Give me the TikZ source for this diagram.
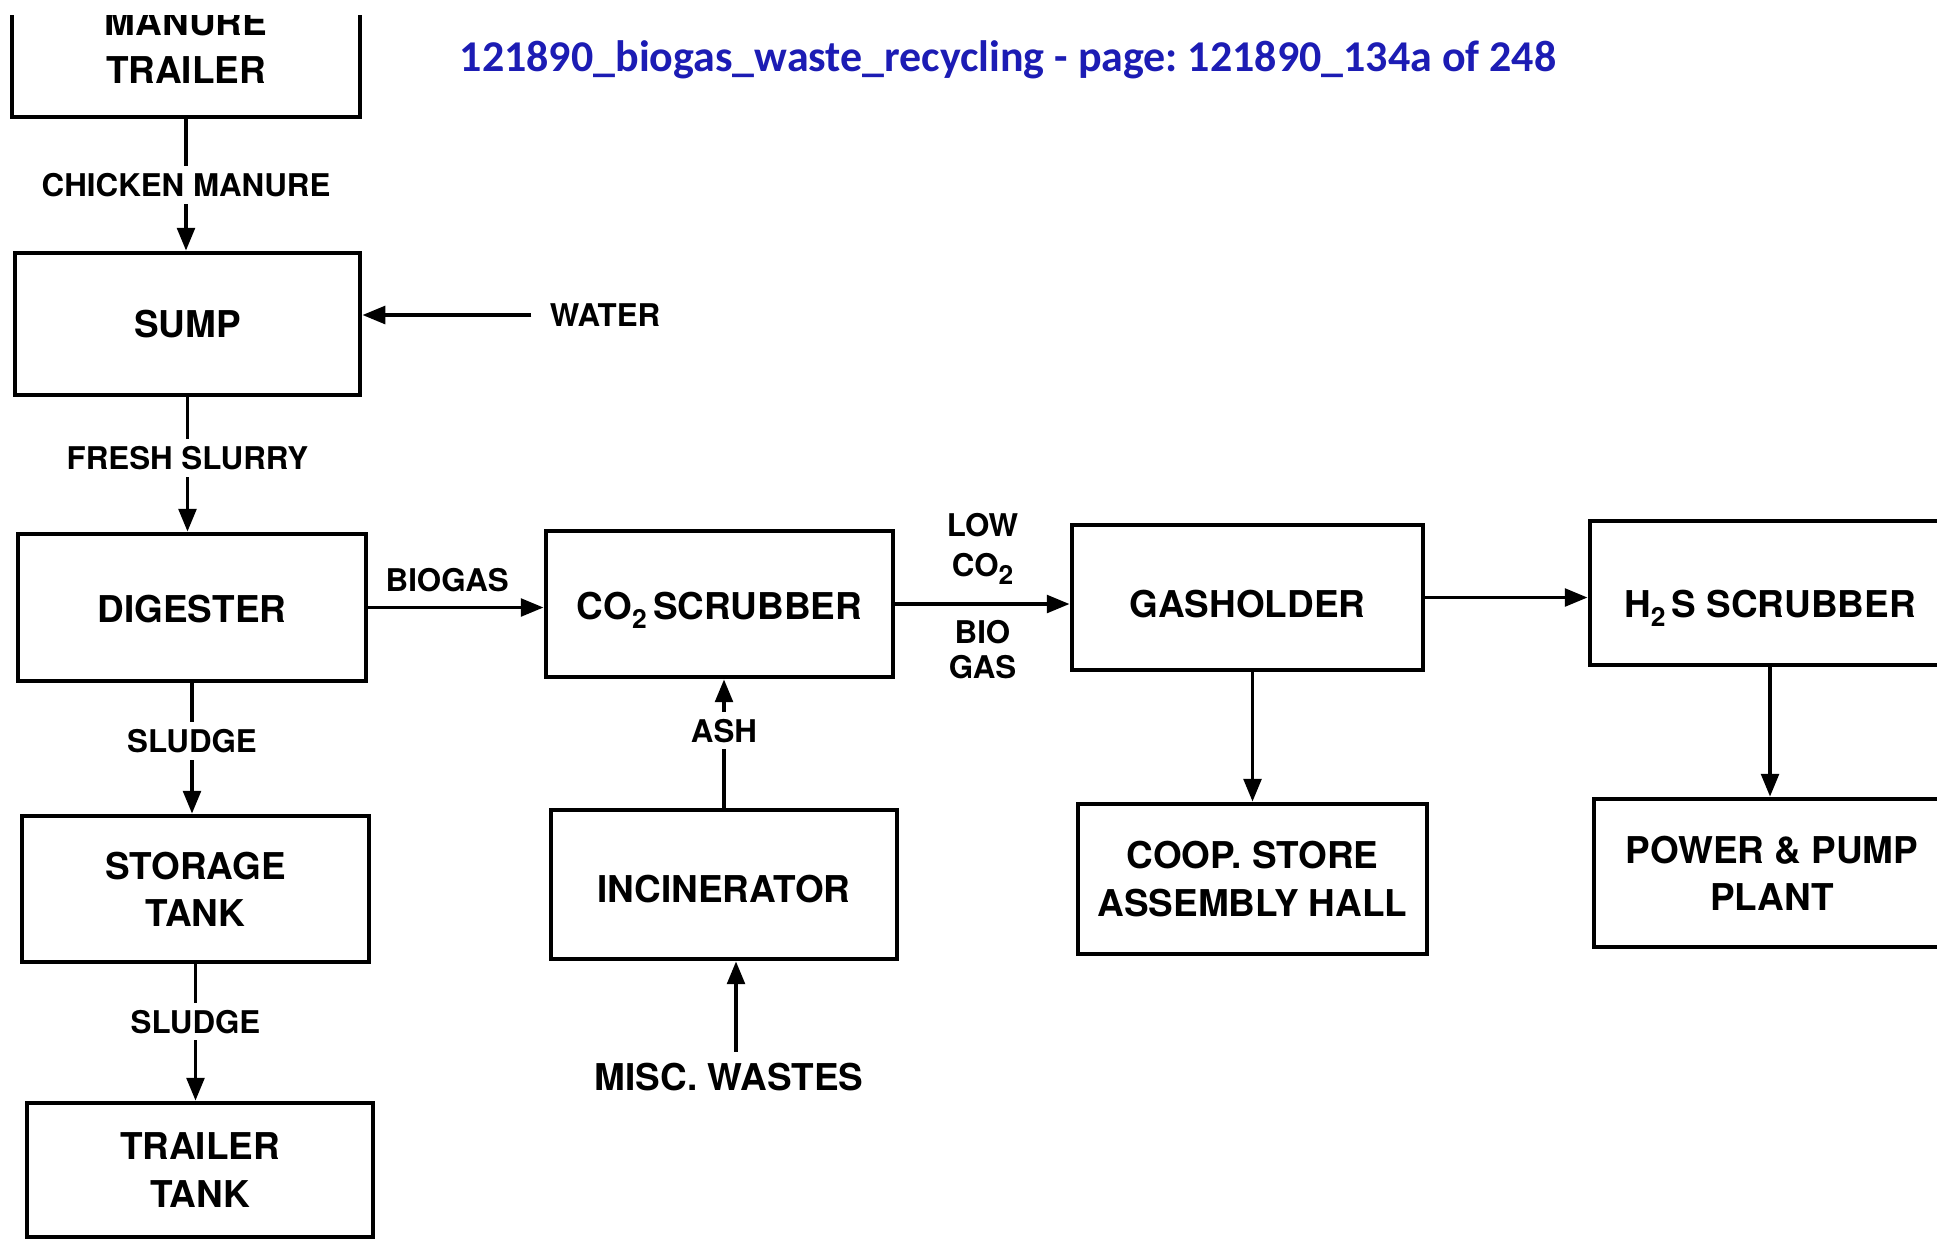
\documentclass[tikz,border=0pt]{standalone}
\usepackage{fontspec}
\usepackage{xcolor}
\usepackage{tikz}
\usetikzlibrary{arrows.meta}
\setmainfont{TeX Gyre Heros}
\newfontfamily\titlefont{Carlito}
\definecolor{titleblue}{HTML}{1C1CB4}
\newcommand{\chemsub}[1]{\raisebox{-0.45ex}{\fontsize{7.5}{7.5}\selectfont #1}}
\frenchspacing

\begin{document}
\begin{tikzpicture}[x=0.01cm, y=-0.01cm, >={Triangle[length=6.5pt,width=5pt]},
  unit/.style={draw, line width=1.3pt, align=center, inner sep=0pt,
    font=\fontsize{10.5}{13.4}\selectfont\bfseries},
  lower/.style={text height=#1, text depth=0pt},
  flow/.style={->, line width=1.1pt},
  tag/.style={font=\fontsize{8.9}{11.5}\selectfont\bfseries, align=center, inner sep=2pt},
  gap/.style={tag, fill=white}]
  \useasboundingbox (0,0) rectangle (1937,1239);
  \fill[white] (0,0) rectangle (1937,1239);
  % page header
  \node[font=\titlefont\fontsize{12.5}{15}\selectfont\bfseries, text=titleblue] (title) at (1008,60)
    {121890\_biogas\_waste\_recycling - page: 121890\_134a of 248};
  \begin{scope}
    \clip (0,15) rectangle (1937,1239);
    % left column
    \node[unit, minimum width=3.48cm, minimum height=1.42cm] (trailer) at (186,46) {MANURE\\TRAILER};
    \node[unit, minimum width=3.45cm, minimum height=1.42cm] (sump) at (187.5,324) {SUMP};
    \node[unit, lower=8.4pt, minimum width=3.48cm, minimum height=1.47cm] (digester) at (192,607.5) {DIGESTER};
    \node[unit, minimum width=3.47cm, minimum height=1.46cm] (storage) at (195.5,889) {STORAGE\\TANK};
    \node[unit, minimum width=3.46cm, minimum height=1.34cm] (tank) at (200,1170) {TRAILER\\TANK};
    % middle column
    \node[unit, lower=9pt, minimum width=3.47cm, minimum height=1.46cm] (co2) at (719.5,604) {CO\chemsub{2}\,SCRUBBER};
    \node[unit, lower=10.4pt, minimum width=3.46cm, minimum height=1.49cm] (incin) at (724,884.5) {INCINERATOR};
    \node[font=\fontsize{10.5}{13}\selectfont\bfseries, inner sep=3pt] (misc) at (729,1077) {MISC. WASTES};
    % right columns
    \node[unit, lower=11.4pt, minimum width=3.51cm, minimum height=1.45cm] (gas) at (1247.5,597.5) {GASHOLDER};
    \node[unit, minimum width=3.49cm, minimum height=1.50cm] (coop) at (1252.5,879) {COOP. STORE\\ASSEMBLY HALL};
    \node[unit, lower=13.8pt, minimum width=3.60cm, minimum height=1.44cm] (h2s) at (1770,593) {H\chemsub{2}\,S SCRUBBER};
    \node[unit, minimum width=3.56cm, minimum height=1.48cm] (power) at (1772,873) {POWER \& PUMP\\PLANT};
    % inputs
    \node[tag, inner sep=5pt] (water) at (605,315) {WATER};
    % flows down the left
    \draw[flow] (trailer.south) -- node[gap] (chicken) {CHICKEN MANURE} (trailer.south |- sump.north);
    \draw[flow] (water.west) -- (water.west -| sump.east);
    \draw[flow] (sump.south) -- node[gap, pos=0.45] (fresh) {FRESH SLURRY} (sump.south |- digester.north);
    \draw[flow] (digester.south) -- node[gap, pos=0.44] (sludgea) {SLUDGE} (digester.south |- storage.north);
    \draw[flow] (storage.south) -- node[gap, pos=0.42] (sludgeb) {SLUDGE} (storage.south |- tank.north);
    % gas line
    \draw[flow] (digester.east) -- node[tag, above=2pt, pos=0.45] (biogas) {BIOGAS} (digester.east -| co2.west);
    \draw[flow] (co2.east) -- node[tag, above=3pt, pos=0.5] (lowco) {LOW\\CO\chemsub{2}}
      node[tag, below=2pt, pos=0.5, font=\fontsize{8.9}{10}\selectfont\bfseries] (bio) {BIO\\GAS} (co2.east -| gas.west);
    \draw[flow] (gas.east) -- (gas.east -| h2s.west);
    \draw[flow] (gas.south -| coop.north) -- (coop.north);
    \draw[flow] (h2s.south) -- (h2s.south |- power.north);
    % ash and wastes
    \draw[flow] (incin.north) -- node[gap, pos=0.6] (ash) {ASH} (incin.north |- co2.south);
    \draw[flow] (misc.north -| 736,0) -- (incin.south -| 736,0);
  \end{scope}
\end{tikzpicture}
\end{document}
